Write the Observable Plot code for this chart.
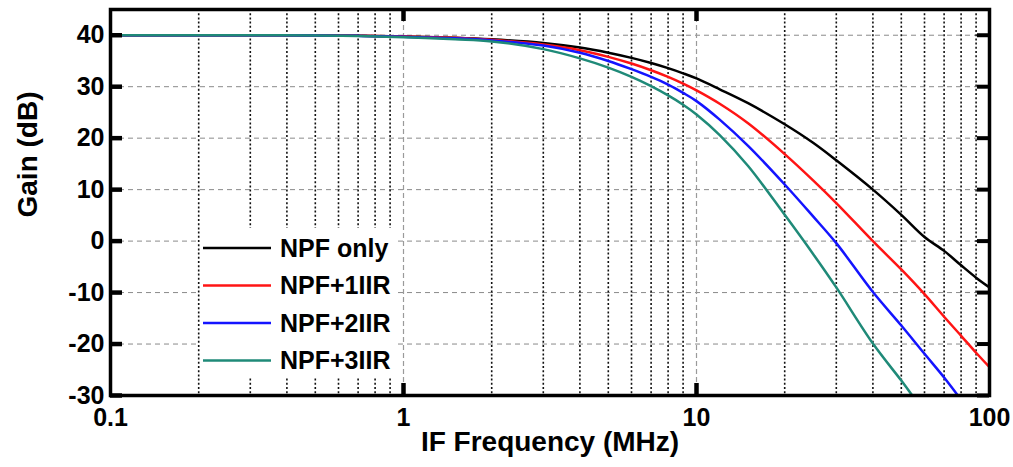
<!DOCTYPE html>
<html><head><meta charset="utf-8">
<script src="https://cdn.jsdelivr.net/npm/d3@7"></script>
<script src="https://cdn.jsdelivr.net/npm/@observablehq/plot@0.6"></script>
<style>
body{margin:0;background:#fff;}
#chart{position:relative;width:1013px;height:467px;}
svg text{font-family:"Liberation Sans",Arial,sans-serif;font-weight:bold;}
</style></head><body><div id="chart"></div>
<script>
// IF frequency (MHz) sample points
const freqs = [0.1,0.2,0.3,0.5,0.7,1,1.5,2,3,4,5,6,7,8,9,10,12,15,20,25,30,40,50,60,70,80,90,100];
const freqsNpf2 = [0.1,0.2,0.3,0.5,0.7,1,1.5,2,3,4,5,6,7,8,9,10,12,15,20,25,30,40,50,60,70,78];
const freqsNpf3 = [0.1,0.2,0.3,0.5,0.7,1,1.5,2,3,4,5,6,7,8,9,10,12,15,20,25,30,40,50,54.5];
// Gain (dB)
const gainNpfOnly = [40,40,40,39.95,39.9,39.75,39.5,39.2,38.5,37.6,36.6,35.6,34.6,33.6,32.6,31.6,29.5,26.8,22.7,19.1,15.7,10.0,5.1,0.8,-1.9,-4.7,-7.1,-9.0];
const gainNpf1 = [40,40,40,39.95,39.9,39.75,39.5,39.1,38.2,37.1,35.8,34.5,33.2,31.9,30.6,29.3,26.7,22.9,16.9,11.8,7.4,0.0,-5.5,-10.3,-14.7,-18.4,-21.7,-24.5];
const gainNpf2 = [40,40,40,39.95,39.88,39.7,39.4,39.0,38.0,36.6,35.0,33.4,31.9,30.4,28.8,27.2,23.6,18.5,11.0,4.8,-0.4,-9.9,-16.4,-21.9,-26.5,-30];
const gainNpf3 = [40,40,40,39.93,39.85,39.6,39.2,38.8,37.3,35.5,33.7,31.9,30.1,28.3,26.5,24.6,20.6,14.6,5.1,-2.5,-9.0,-19.9,-27.1,-30];

const seriesNames = ["NPF only","NPF+1IIR","NPF+2IIR","NPF+3IIR"];
const seriesColors = ["#000000","#ff1414","#1414ff","#1f8a78"];
const xTicks = [0.1,1,10,100];
const xMajorTicks = [1,10];
const yTicks = [-30,-20,-10,0,10,20,30,40];
const xDomain = [0.1,100], yDomain = [-30,45];

const table = [];
[[freqs,gainNpfOnly],[freqs,gainNpf1],[freqsNpf2,gainNpf2],[freqsNpf3,gainNpf3]].forEach(([fs,gs],i)=>{
  fs.forEach((f,j)=>table.push({f, g: gs[j], s: seriesNames[i]}));
});
const minorX = [];
for (const d of [0.1,1,10]) for (let k=2;k<=9;k++) minorX.push(+(d*k).toPrecision(3));

const W = 1013, H = 467, mL = 110, mR = 24, mT = 9, mB = 72;
const frameW = W - mL - mR, frameH = H - mT - mB;
// inward tick lengths (12 px) expressed in scale units
const decades = Math.log10(xDomain[1]/xDomain[0]);
const xIn = xDomain[0] * Math.pow(10, 12/frameW*decades);
const xOut = xDomain[1] / Math.pow(10, 12/frameW*decades);
const yLen = 12/frameH*(yDomain[1]-yDomain[0]);
const tickTable = yTicks.map(v=>({v}));
const xTickTable = xMajorTicks.map(v=>({v}));

const font = "Liberation Sans, Arial, sans-serif";
const plot = Plot.plot({
  width:W, height:H, marginLeft:mL, marginRight:mR, marginTop:mT, marginBottom:mB,
  style:{fontFamily:font, background:"white", color:"black"},
  x:{type:"log", domain:xDomain},
  y:{domain:yDomain},
  color:{domain:seriesNames, range:seriesColors},
  marks:[
    Plot.ruleY(yTicks.filter(v=>v>-30), {stroke:"#8a8a8a", strokeDasharray:"5,4", strokeWidth:1}),
    Plot.ruleX(minorX, {stroke:"#111", strokeDasharray:"2,2.2", strokeWidth:1.6}),
    Plot.ruleX(xMajorTicks, {stroke:"#9a9a9a", strokeDasharray:"5,3", strokeWidth:1.2}),
    Plot.line(table, {x:"f", y:"g", z:"s", stroke:"s", strokeWidth:2.5, curve:"catmull-rom", clip:true}),
    Plot.frame({stroke:"black", strokeWidth:3.5}),
    Plot.ruleY(tickTable, {y:"v", x1:xDomain[0], x2:xIn, stroke:"black", strokeWidth:4.5}),
    Plot.ruleY(tickTable, {y:"v", x1:xOut, x2:xDomain[1], stroke:"black", strokeWidth:4}),
    Plot.ruleX(xTickTable, {x:"v", y1:yDomain[0], y2:yDomain[0]+yLen, stroke:"black", strokeWidth:4.5}),
    Plot.ruleX(xTickTable, {x:"v", y1:yDomain[1]-yLen, y2:yDomain[1], stroke:"black", strokeWidth:4.5}),
    Plot.axisY(yTicks, {anchor:"left", tickSize:0, tickPadding:6, fontSize:25, fontWeight:"bold", tickFormat:d=>String(d), label:null}),
    Plot.axisX(xTicks, {anchor:"bottom", tickSize:0, tickPadding:13, fontSize:25, fontWeight:"bold", tickFormat:d=>String(d), label:null}),
    Plot.text(["IF Frequency (MHz)"], {frameAnchor:"bottom", dy:55, fontSize:28, fontWeight:"bold", fill:"black"}),
    Plot.text(["Gain (dB)"], {frameAnchor:"left", dx:-82, dy:15, rotate:-90, fontSize:28, fontWeight:"bold", fill:"black"})
  ]
});
document.getElementById("chart").appendChild(plot);

// Legend (inside the plot area, white background)
const svg = d3.select(plot);
const lg = svg.append("g");
lg.append("rect").attr("x",200).attr("y",228).attr("width",198).attr("height",150).attr("fill","white");
seriesNames.forEach((name,i)=>{
  const y = 248 + i*37.5;
  lg.append("line").attr("x1",203).attr("x2",271).attr("y1",y).attr("y2",y)
    .attr("stroke",seriesColors[i]).attr("stroke-width",2.5);
  lg.append("text").attr("x",280).attr("y",y).attr("dy","0.35em").attr("text-anchor","start")
    .attr("font-size",25).attr("font-weight","bold").attr("font-family",font).attr("fill","black").text(name);
});
</script></body></html>
